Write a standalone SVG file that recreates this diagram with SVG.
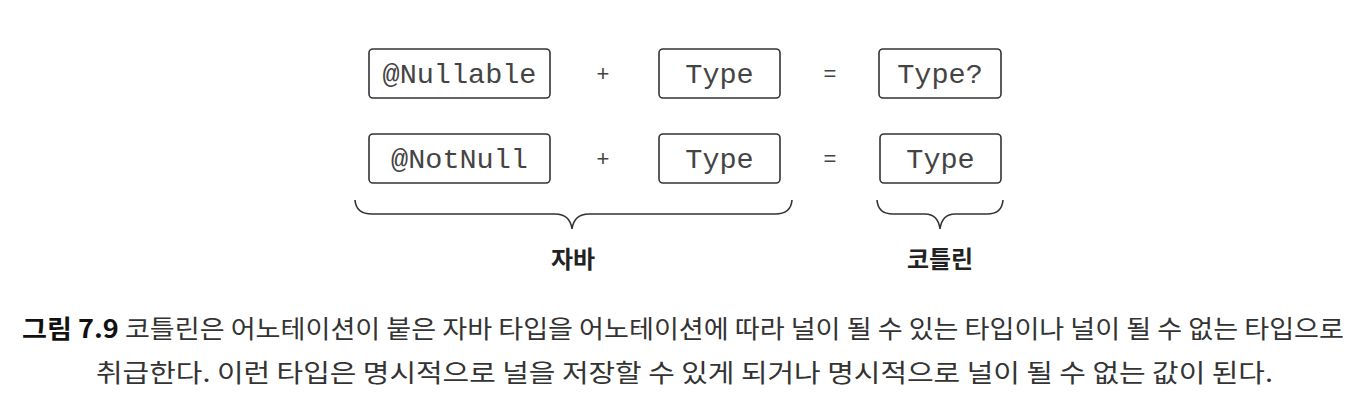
<svg xmlns="http://www.w3.org/2000/svg" width="1366" height="412" viewBox="0 0 1366 412">
<style>
.box{fill:#fff;stroke:#333;stroke-width:1.6}
.code{font-family:"Liberation Mono",monospace;font-size:28.5px;fill:#444;text-anchor:middle}
.op{font-family:"Liberation Sans",sans-serif;font-size:22px;fill:#444;text-anchor:middle}
.brace{fill:none;stroke:#333;stroke-width:1.6}
.lbl{font-family:"Noto Sans CJK KR",sans-serif;font-weight:bold;font-size:24px;fill:#222;text-anchor:middle}
.cap{font-family:"Noto Sans CJK KR",sans-serif;font-size:25px;fill:#333}
</style>
<rect width="1366" height="412" fill="#fff"/>
<g id="nullable"><rect class="box" x="369" y="49" width="181" height="49" rx="4"/><text class="code" x="459.5" y="83">@Nullable</text></g>
<g id="type1"><rect class="box" x="659" y="49" width="121" height="49" rx="4"/><text class="code" x="719.5" y="83">Type</text></g>
<g id="typeq"><rect class="box" x="879" y="49" width="122" height="49" rx="4"/><text class="code" x="940" y="83">Type?</text></g>
<g id="notnull"><rect class="box" x="369" y="134" width="181" height="49" rx="4"/><text class="code" x="459.5" y="168">@NotNull</text></g>
<g id="type2"><rect class="box" x="659" y="134" width="121" height="49" rx="4"/><text class="code" x="719.5" y="168">Type</text></g>
<g id="type3"><rect class="box" x="880" y="134" width="121" height="49" rx="4"/><text class="code" x="940.5" y="168">Type</text></g>
<g id="ops">
<text class="op" x="603" y="81">+</text><text class="op" x="830" y="81">=</text>
<text class="op" x="603" y="166">+</text><text class="op" x="830" y="166">=</text>
</g>
<g id="connectors">
<path class="brace" d="M355 200 Q356 214 372 214 L555 214 Q570 214 572 229 Q574 214 589 214 L775 214 Q791 214 792 200"/>
<path class="brace" d="M877 200 Q878 214 893 214 L925 214 Q938 214 940 229 Q942 214 955 214 L987 214 Q1002 214 1003 200"/>
</g>
<g id="java"><text class="lbl" x="573" y="268">자바</text></g>
<g id="kotlin"><text class="lbl" x="940" y="268">코틀린</text></g>
<g id="caption">
<text class="cap" x="22" y="338" textLength="1322" lengthAdjust="spacingAndGlyphs"><tspan font-weight="bold" fill="#111">그림 7.9</tspan> 코틀린은 어노테이션이 붙은 자바 타입을 어노테이션에 따라 널이 될 수 있는 타입이나 널이 될 수 없는 타입으로</text>
<text class="cap" x="96" y="382" textLength="1177" lengthAdjust="spacingAndGlyphs">취급한다. 이런 타입은 명시적으로 널을 저장할 수 있게 되거나 명시적으로 널이 될 수 없는 값이 된다.</text>
</g>
</svg>
